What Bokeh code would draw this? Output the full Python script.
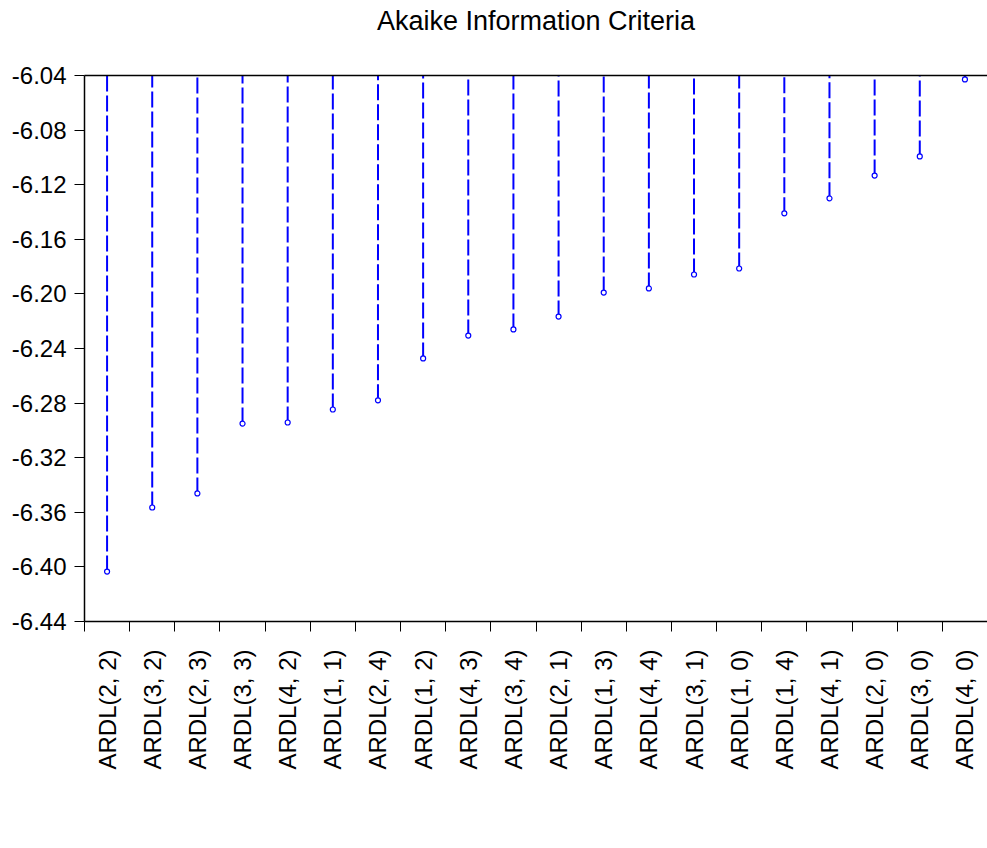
import math
from bokeh.plotting import figure
from bokeh.models import Range1d, FixedTicker, NumeralTickFormatter, LinearAxis, ColumnDataSource
from bokeh.embed import file_html
from bokeh.resources import INLINE

# ---- data ----
MODELS = ["ARDL(2, 2)", "ARDL(3, 2)", "ARDL(2, 3)", "ARDL(3, 3)", "ARDL(4, 2)",
          "ARDL(1, 1)", "ARDL(2, 4)", "ARDL(1, 2)", "ARDL(4, 3)", "ARDL(3, 4)",
          "ARDL(2, 1)", "ARDL(1, 3)", "ARDL(4, 4)", "ARDL(3, 1)", "ARDL(1, 0)",
          "ARDL(1, 4)", "ARDL(4, 1)", "ARDL(2, 0)", "ARDL(3, 0)", "ARDL(4, 0)"]
AIC = [-6.4034, -6.3565, -6.3462, -6.2950, -6.2942,
       -6.2847, -6.2780, -6.2473, -6.2305, -6.2260,
       -6.2166, -6.1990, -6.1960, -6.1858, -6.1814,
       -6.1410, -6.1300, -6.1133, -6.0993, -6.0429]
Y_TICKS = [-6.44, -6.40, -6.36, -6.32, -6.28, -6.24, -6.20, -6.16, -6.12, -6.08, -6.04]
Y_MIN, Y_MAX = -6.44, -6.04
TITLE = "Akaike Information Criteria"

FONT = "Liberation Sans"
BLUE = "#0000FF"

n = len(MODELS)
xpos = [i + 0.5 for i in range(n)]
src = ColumnDataSource(dict(x=xpos, y=AIC, top=[Y_MAX] * n, name=MODELS))

p = figure(width=987, height=808, output_backend="svg", toolbar_location=None,
           x_range=Range1d(0, n), y_range=Range1d(Y_MIN, Y_MAX),
           x_axis_type=None, y_axis_type=None,
           min_border_left=84, min_border_right=0, min_border_top=75,
           min_border_bottom=187)
p.outline_line_color = None
p.xgrid.visible = False
p.ygrid.visible = False
p.background_fill_color = "white"
p.border_fill_color = "white"

# y axis
yax = LinearAxis(ticker=FixedTicker(ticks=Y_TICKS, minor_ticks=[]),
                 formatter=NumeralTickFormatter(format="0.00"))
yax.axis_line_width = 1.5
yax.axis_line_color = "black"
yax.major_tick_out = 10
yax.major_tick_in = 0
yax.major_tick_line_width = 1
yax.major_tick_line_color = "black"
yax.minor_tick_line_color = None
yax.major_label_text_font = FONT
yax.major_label_text_font_size = "24px"
yax.major_label_text_color = "black"
yax.major_label_standoff = 8
p.add_layout(yax, "left")

# x axis: labels at category centres, ticks at boundaries
xax = LinearAxis(ticker=FixedTicker(ticks=xpos, minor_ticks=list(range(n + 1))))
xax.major_label_overrides = {x: m for x, m in zip(xpos, MODELS)}
xax.major_label_orientation = math.pi / 2
xax.axis_line_width = 1.5
xax.axis_line_color = "black"
xax.major_tick_out = 0
xax.major_tick_in = 0
xax.major_tick_line_color = None
xax.minor_tick_out = 10
xax.minor_tick_in = 0
xax.minor_tick_line_color = "black"
xax.minor_tick_line_width = 1
xax.major_label_text_font = FONT
xax.major_label_text_font_size = "24px"
xax.major_label_text_color = "black"
xax.major_label_standoff = 18
p.add_layout(xax, "below")

# top frame line, carrying the chart title as its axis label
tax = LinearAxis(ticker=FixedTicker(ticks=[], minor_ticks=[]))
tax.axis_line_width = 1.5
tax.axis_line_color = "black"
tax.major_tick_line_color = None
tax.minor_tick_line_color = None
tax.major_tick_out = 0
tax.major_label_text_font_size = "0px"
tax.axis_label = TITLE
tax.axis_label_text_font = FONT
tax.axis_label_text_font_size = "27px"
tax.axis_label_text_font_style = "normal"
tax.axis_label_text_color = "black"
tax.axis_label_standoff = 40
p.add_layout(tax, "above")

# stems and markers
p.segment(x0="x", y0="y", x1="x", y1="top", source=src, line_color=BLUE,
          line_width=2, line_dash="16 4")
p.scatter(x="x", y="y", source=src, marker="circle", size=5, line_color=BLUE,
          line_width=1.2, fill_color="white")

open("out.html", "w").write(file_html(p, INLINE))
